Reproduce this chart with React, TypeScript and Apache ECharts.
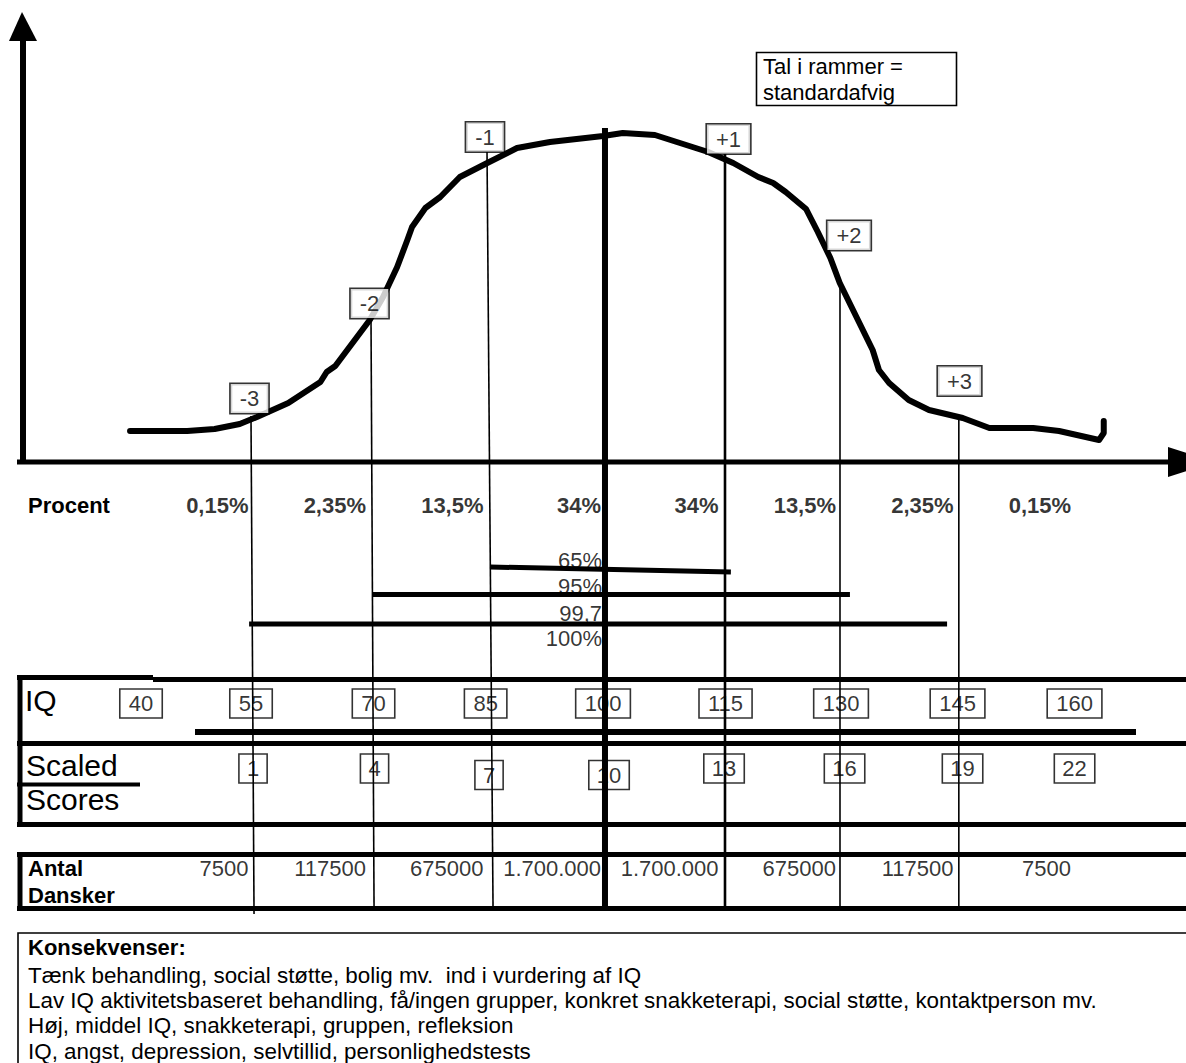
import React, { useEffect, useRef } from "react";
import * as echarts from "echarts";

const W = 1186;
const H = 1063;
const BASE = 462; // pixel row of the horizontal arrow (height 0 of the curve)
const FONT = "'Liberation Sans', Arial, Helvetica, sans-serif";

// Horizontal scale of the diagram, in IQ points
const IQ_MIN = 22.7;
const IQ_MAX = 174.1;

// Hand-drawn bell curve: IQ position and height above the axis
const curveIQ = [39.3, 46.6, 50.1, 53.3, 55.5, 59.5, 63.6, 64.4, 65.5, 69.9, 71.6, 73.4, 74.7, 75.3, 77.0, 78.9, 81.4, 84.9, 88.7, 92.9, 99.7, 102.2, 106.3, 109.1, 113.1, 116.3, 119.5, 121.4, 123.0, 125.6, 127.1, 128.7, 129.9, 134.1, 134.9, 136.2, 138.7, 141.3, 145.6, 149.0, 154.6, 157.9, 163.0, 163.6, 163.6];
const curveHeight = [31, 31, 33, 38, 45, 59, 80, 90, 96, 142, 165, 195, 222, 235, 254, 265, 285, 299, 314, 320, 326, 329, 327, 320, 310, 299, 285, 279, 270, 253, 230, 204, 179, 112, 92, 79, 62, 52, 44, 34, 34, 31, 22, 29, 41];

// Standard-deviation boundaries (IQ)
const sdBoundaryIQ = [55, 70, 85, 100, 115, 130, 145, 160];
const sdLineTopIQ = [54.74, 70.06, 84.87, 99.93, 115.25, 129.93, 145.1];
const sdLineBottomIQ = [55.13, 70.45, 85.64, 99.93, 115.25, 129.93, 145.1];

const sdLabels = ["-3", "-2", "-1", "+1", "+2", "+3"];
const sdLabelIQ = [54.55, 69.87, 84.61, 115.7, 131.08, 145.19];

const percentLabels = ["0,15%", "2,35%", "13,5%", "34%", "34%", "13,5%", "2,35%", "0,15%"];
const antalLabels = ["7500", "117500", "675000", "1.700.000", "1.700.000", "675000", "117500", "7500"];

const iqTicks = [40, 55, 70, 85, 100, 115, 130, 145, 160];
const scaledScores = [1, 4, 7, 10, 13, 16, 19, 22];

const rangeLabels = ["65%", "95%", "99,7", "100%"];
const rangeFromIQ = [85.25, 70.3, 54.5];
const rangeToIQ = [116.0, 131.2, 143.6];

const legendLines = ["Tal i rammer =", "standardafvig"];
const consequenceTitle = "Konsekvenser:";
const consequences = [
  "Tænk behandling, social støtte, bolig mv.  ind i vurdering af IQ",
  "Lav IQ aktivitetsbaseret behandling, få/ingen grupper, konkret snakketerapi, social støtte, kontaktperson mv.",
  "Høj, middel IQ, snakketerapi, gruppen, refleksion",
  "IQ, angst, depression, selvtillid, personlighedstests",
];

// ---- layout (pixel rows / nudges of the hand-made drawing) ----
const LAYOUT = {
  sdLineTop: [416, 318, 152, 128, 154, 283, 420],
  sdLineBottom: [914, 908, 908, 908, 908, 908, 908],
  sdLineWidth: [1.6, 1.6, 1.6, 6, 2.6, 1.6, 1.6],
  sdLabelRow: [398.5, 303.5, 137, 139, 235.5, 381],
  procentRow: 505,
  rangeTextRow: [560, 586, 613, 638],
  rangeLineFromRow: [567, 594.5, 624],
  rangeLineToRow: [572, 594.5, 624],
  iqBoxRow: 703.5,
  iqBoxNudge: [5.5, -2, 3, -2.4, -2.5, 2.5, 0.5, -0.5, -1],
  scaledRow: [768.5, 768.5, 775, 775, 768.5, 768.5, 768.5, 768.5],
  scaledNudge: [0, 4, 1, 3.5, 1, 4, 4.5, -1],
  antalRow: 868,
  consequenceTitleRow: 947,
  consequenceFirstRow: 975,
  consequencePitch: 25.4,
};

function txt(x: number, y: number, text: string, size: number, weight: string = "normal") {
  return {
    type: "text",
    x,
    y,
    silent: true,
    style: {
      text,
      fill: "#000",
      fontSize: size,
      fontFamily: FONT,
      fontWeight: weight,
      align: "left",
      verticalAlign: "middle",
      textAlign: "left",
      textVerticalAlign: "middle",
    },
  };
}

function hline(x1: number, y: number, x2: number, w: number) {
  return { type: "line", silent: true, shape: { x1, y1: y, x2, y2: y }, style: { stroke: "#000", lineWidth: w } };
}
function vline(x: number, y1: number, y2: number, w: number) {
  return { type: "line", silent: true, shape: { x1: x, y1, x2: x, y2 }, style: { stroke: "#000", lineWidth: w } };
}

const invisibleSymbol = {
  type: "scatter",
  xAxisIndex: 0,
  yAxisIndex: 0,
  symbol: "circle",
  symbolSize: 1,
  silent: true,
  itemStyle: { color: "rgba(0,0,0,0)" },
};

function boxLabel(extra: any = {}) {
  return {
    show: true,
    position: "inside",
    formatter: "{b}",
    color: "#000",
    fontFamily: FONT,
    fontSize: 22,
    lineHeight: 22,
    borderColor: "#000",
    borderWidth: 1.6,
    padding: [4, 9, 3, 9],
    ...extra,
  };
}

function buildOption(): any {
  const series: any[] = [];

  // bell curve
  series.push({
    type: "line",
    xAxisIndex: 0,
    yAxisIndex: 1,
    data: curveIQ.map((x, i) => [x, curveHeight[i]]),
    symbol: "none",
    silent: true,
    lineStyle: { color: "#000", width: 6, join: "round", cap: "round" },
    z: 3,
  });

  // standard deviation verticals
  sdLineTopIQ.forEach((x, i) => {
    series.push({
      type: "line",
      xAxisIndex: 0,
      yAxisIndex: 0,
      data: [
        [x, LAYOUT.sdLineTop[i]],
        [sdLineBottomIQ[i], LAYOUT.sdLineBottom[i]],
      ],
      symbol: "none",
      silent: true,
      lineStyle: { color: "#000", width: LAYOUT.sdLineWidth[i] },
      z: 4,
    });
  });

  // range lines (65 %, 95 %, 99,7 %)
  rangeFromIQ.forEach((x, i) => {
    series.push({
      type: "line",
      xAxisIndex: 0,
      yAxisIndex: 0,
      data: [
        [x, LAYOUT.rangeLineFromRow[i]],
        [rangeToIQ[i], LAYOUT.rangeLineToRow[i]],
      ],
      symbol: "none",
      silent: true,
      lineStyle: { color: "#000", width: 5 },
      z: 4,
    });
  });

  // range labels
  series.push({
    ...invisibleSymbol,
    data: rangeLabels.map((t, i) => ({ name: t, value: [100, LAYOUT.rangeTextRow[i]] })),
    label: { show: true, position: "left", distance: 3, formatter: "{b}", color: "#000", fontFamily: FONT, fontSize: 22 },
    z: 5,
  });

  // SD label boxes
  series.push({
    ...invisibleSymbol,
    data: sdLabels.map((t, i) => ({ name: t, value: [sdLabelIQ[i], LAYOUT.sdLabelRow[i]] })),
    label: boxLabel({ backgroundColor: "#fff" }),
    z: 6,
  });

  // percent row
  series.push({
    ...invisibleSymbol,
    data: percentLabels.map((t, i) => ({ name: t, value: [sdBoundaryIQ[i], LAYOUT.procentRow] })),
    label: { show: true, position: "left", distance: 4, formatter: "{b}", color: "#000", fontFamily: FONT, fontSize: 22, fontWeight: "bold" },
    z: 5,
  });

  // IQ boxes
  series.push({
    ...invisibleSymbol,
    data: iqTicks.map((v, i) => ({
      name: String(v),
      value: [v, LAYOUT.iqBoxRow],
      label: { offset: [LAYOUT.iqBoxNudge[i], 0] },
    })),
    label: boxLabel(),
    z: 5,
  });

  // scaled score boxes (aligned with IQ 55, 70, ... 160)
  series.push({
    ...invisibleSymbol,
    data: scaledScores.map((v, i) => ({
      name: String(v),
      value: [sdBoundaryIQ[i], LAYOUT.scaledRow[i]],
      label: { offset: [LAYOUT.scaledNudge[i], 0] },
    })),
    label: boxLabel({ padding: [4, 8, 3, 8] }),
    z: 5,
  });

  // number of Danes per band
  series.push({
    ...invisibleSymbol,
    data: antalLabels.map((t, i) => ({ name: t, value: [sdBoundaryIQ[i], LAYOUT.antalRow] })),
    label: { show: true, position: "left", distance: 4, formatter: "{b}", color: "#000", fontFamily: FONT, fontSize: 22 },
    z: 5,
  });

  const graphic: any[] = [
    // axes with arrows
    vline(23, 463, 38, 6),
    { type: "polygon", silent: true, shape: { points: [[9, 41], [37, 41], [22, 12]] }, style: { fill: "#000" } },
    hline(17, BASE, 1172, 5),
    { type: "polygon", silent: true, shape: { points: [[1168, 447], [1168, 477], [1214, 462]] }, style: { fill: "#000" } },

    // legend box
    { type: "rect", silent: true, shape: { x: 756.5, y: 52.5, width: 200, height: 53 }, style: { fill: "#fff", stroke: "#000", lineWidth: 1.6 } },
    txt(763, 66, legendLines[0], 22),
    txt(763, 92, legendLines[1], 22),

    // Procent row title
    txt(28, LAYOUT.procentRow, "Procent", 22, "bold"),

    // IQ / Scaled scores table
    hline(17, 677.5, 153, 5),
    hline(153, 679.5, 1200, 5),
    hline(195, 732, 1136, 6),
    hline(17, 743.5, 1200, 5),
    hline(17, 784.5, 140, 4),
    hline(17, 824.5, 1200, 5),
    vline(20, 675, 827, 5),
    txt(25, 700, "IQ", 30),
    txt(26, 765, "Scaled", 30),
    txt(26, 799, "Scores", 30),

    // Antal Dansker table
    hline(17, 854.5, 1200, 5),
    hline(17, 908.5, 1200, 5),
    vline(20, 852, 911, 5),
    txt(28, 868, "Antal", 22, "bold"),
    txt(28, 895, "Dansker", 22, "bold"),

    // Konsekvenser box
    { type: "rect", silent: true, shape: { x: 18, y: 933, width: 1300, height: 300 }, style: { fill: "none", stroke: "#000", lineWidth: 1.6 } },
    txt(28, LAYOUT.consequenceTitleRow, consequenceTitle, 22, "bold"),
    ...consequences.map((t, i) => txt(28, LAYOUT.consequenceFirstRow + i * LAYOUT.consequencePitch, t, 22.4)),
  ];

  return {
    animation: false,
    backgroundColor: "#fff",
    grid: { left: 0, top: 0, width: W, height: H, containLabel: false, show: false },
    xAxis: { type: "value", min: IQ_MIN, max: IQ_MAX, show: false },
    yAxis: [
      { type: "value", min: 0, max: H, inverse: true, show: false },
      { type: "value", min: -(H - BASE), max: BASE, show: false },
    ],
    graphic,
    series,
  };
}

export default function App() {
  const ref = useRef<HTMLDivElement>(null);
  useEffect(() => {
    if (!ref.current) return;
    const chart = echarts.init(ref.current, undefined, { renderer: "svg", width: W, height: H });
    chart.setOption(buildOption());
    return () => chart.dispose();
  }, []);
  return (
    <div
      ref={ref}
      style={{ position: "absolute", left: 0, top: 0, width: W, height: H, background: "#fff", overflow: "hidden" }}
    />
  );
}
